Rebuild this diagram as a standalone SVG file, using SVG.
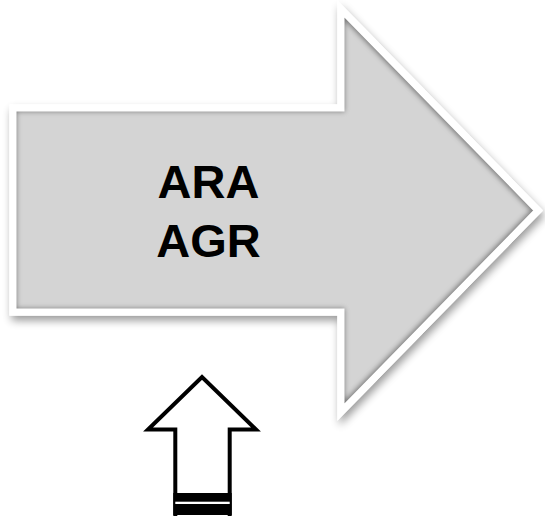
<svg xmlns="http://www.w3.org/2000/svg" width="545" height="518" viewBox="0 0 545 518">
  <defs>
    <style>
      .label { font-family: "Liberation Sans", Arial, sans-serif; font-weight: bold; font-size: 47px; fill: #000; text-anchor: middle; }
      .outline { fill: #fff; stroke: #000; stroke-width: 4; stroke-linejoin: miter; stroke-miterlimit: 10; }
    </style>
    <path id="bigShape" d="M13,108 H341 V9 L538,210.5 L341,412 V312 H13 Z"/>
    <filter id="ds" x="-10%" y="-10%" width="125%" height="130%">
      <feGaussianBlur in="SourceAlpha" stdDeviation="4"/>
      <feOffset dx="2" dy="5" result="b"/>
      <feComponentTransfer in="b" result="sh">
        <feFuncA type="linear" slope="0.4"/>
      </feComponentTransfer>
      <feMerge>
        <feMergeNode in="sh"/>
        <feMergeNode in="SourceGraphic"/>
      </feMerge>
    </filter>
    <filter id="inner" x="-5%" y="-5%" width="110%" height="110%">
      <feMorphology in="SourceAlpha" operator="erode" radius="3.5" result="e"/>
      <feFlood flood-color="#7a7a7a"/>
      <feComposite in2="e" operator="out"/>
      <feGaussianBlur stdDeviation="2.5"/>
      <feComposite in2="SourceAlpha" operator="in" result="s"/>
      <feMerge>
        <feMergeNode in="SourceGraphic"/>
        <feMergeNode in="s"/>
      </feMerge>
    </filter>
  </defs>

  <g id="connectors"/>

  <g id="big-arrow">
    <use href="#bigShape" fill="#fff" stroke="#fff" stroke-width="7" filter="url(#ds)"/>
    <use href="#bigShape" fill="#d4d4d4" filter="url(#inner)"/>
    <use href="#bigShape" fill="none" stroke="#fff" stroke-width="7"/>
    <text class="label" x="208.5" y="198">ARA</text>
    <text class="label" x="208.5" y="256.5">AGR</text>
  </g>

  <g id="small-arrow">
    <path class="outline" d="M175.3,516 V429.5 H148 L202,377 L256,429.5 H229.7 V516"/>
    <rect x="173.3" y="493" width="58.4" height="22" fill="#000"/>
    <rect x="175.3" y="501.7" width="54.4" height="2.3" fill="#fff"/>
  </g>
</svg>
